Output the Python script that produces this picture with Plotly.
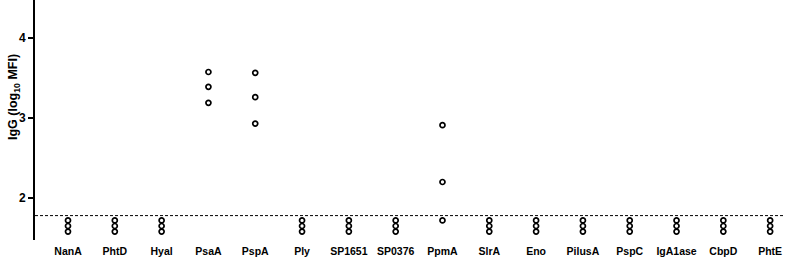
import plotly.graph_objects as go

categories = ["NanA", "PhtD", "Hyal", "PsaA", "PspA", "Ply", "SP1651", "SP0376",
              "PpmA", "SlrA", "Eno", "PilusA", "PspC", "IgA1ase", "CbpD", "PhtE"]
low = [1.72, 1.65, 1.58]
values = {
    "NanA": low, "PhtD": low, "Hyal": low,
    "PsaA": [3.575, 3.39, 3.19],
    "PspA": [3.565, 3.26, 2.93],
    "Ply": low, "SP1651": low, "SP0376": low,
    "PpmA": [2.91, 2.2, 1.72],
    "SlrA": low, "Eno": low, "PilusA": low, "PspC": low,
    "IgA1ase": low, "CbpD": low, "PhtE": low,
}
cutoff = 1.78
y_ticks = [2, 3, 4]
y_title = "<b>IgG (log<sub>10</sub> MFI)</b>"

xs, ys = [], []
for i, c in enumerate(categories):
    for v in values[c]:
        xs.append(i)
        ys.append(v)

fig = go.Figure()
fig.add_trace(go.Scatter(
    x=xs, y=ys, mode="markers",
    marker=dict(symbol="circle-open", size=5, color="black", line=dict(width=1.7, color="black")),
    showlegend=False, hoverinfo="skip"))

fig.add_shape(type="line", xref="paper", yref="y", x0=0, x1=0.997, y0=cutoff, y1=cutoff,
              line=dict(color="black", width=1, dash="3px,2px"))

fig.add_annotation(text=y_title, textangle=-90, xref="paper", yref="paper",
                   x=-21 / 752, y=1 - 97 / 240, xanchor="center", yanchor="middle",
                   showarrow=False, font=dict(size=12.5, color="black"))

fig.update_layout(
    width=787, height=261,
    margin=dict(l=35, r=0, t=0, b=21),
    plot_bgcolor="white", paper_bgcolor="white",
    font=dict(family="Liberation Sans, Arial, sans-serif", color="black", size=11),
    xaxis=dict(range=[-0.705, 15.36], showgrid=False, zeroline=False, showline=False,
               tickmode="array", tickvals=list(range(len(categories))),
               ticktext=["<b>%s</b>" % c for c in categories],
               ticks="", tickfont=dict(size=10.5), automargin=False, ticklabelstandoff=3),
    yaxis=dict(range=[1.475, 4.475], showgrid=False, zeroline=False, showline=True,
               linecolor="black", linewidth=2, ticks="outside", ticklen=5, tickwidth=1.5,
               tickcolor="black", tickmode="array", tickvals=y_ticks,
               ticktext=["<b>%d</b>" % t for t in y_ticks], tickfont=dict(size=12),
               ticklabelstandoff=0, automargin=False),
)

fig.write_html("out.html", config={"displayModeBar": False},
               post_script="document.body.style.margin='0';")
